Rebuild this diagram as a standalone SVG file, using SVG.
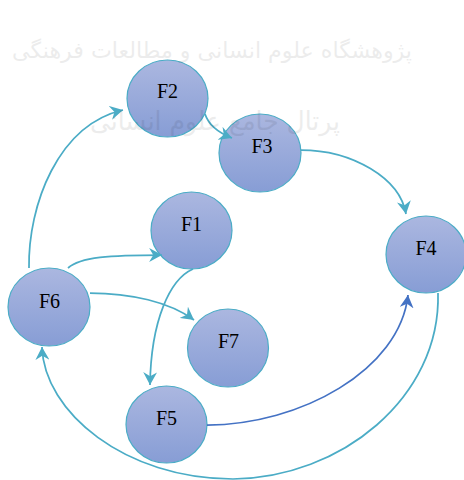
<svg xmlns="http://www.w3.org/2000/svg" width="464" height="480" viewBox="0 0 464 480">
<style>
.node{fill:url(#g);stroke:#4bacc6;stroke-width:1.2}
.lbl{font-family:"Liberation Serif","Times New Roman",serif;font-size:20px;fill:#000;text-anchor:middle}
.c{fill:none;stroke:#4bacc6;stroke-width:1.75;marker-end:url(#at)}
.cb{fill:none;stroke:#4472c4;stroke-width:1.75;marker-end:url(#ab)}
.wm{font-family:"DejaVu Sans","Noto Sans",sans-serif;fill:#000;opacity:0.07;text-anchor:middle}
</style>
<defs>
<linearGradient id="g" x1="0" y1="0" x2="0" y2="1">
<stop offset="0" stop-color="#abb7e0"/>
<stop offset="1" stop-color="#879dd5"/>
</linearGradient>
<marker id="at" markerUnits="userSpaceOnUse" markerWidth="14" markerHeight="14" viewBox="0 0 12 12" refX="11" refY="6" orient="auto">
<path d="M0,0 L11,6 L0,12 L3.5,6 z" fill="#4bacc6"/>
</marker>
<marker id="ab" markerUnits="userSpaceOnUse" markerWidth="14" markerHeight="14" viewBox="0 0 12 12" refX="11" refY="6" orient="auto">
<path d="M0,0 L11,6 L0,12 L3.5,6 z" fill="#4472c4"/>
</marker>
</defs>
<rect width="464" height="480" fill="#fff"/>
<g id="F2"><ellipse class="node" cx="167.5" cy="98.5" rx="40.5" ry="38.5"/><text class="lbl" x="167.5" y="98">F2</text></g>
<g id="F3"><ellipse class="node" cx="260" cy="153" rx="41" ry="39"/><text class="lbl" x="262" y="153">F3</text></g>
<g id="F1"><ellipse class="node" cx="191.5" cy="230.5" rx="40.5" ry="38.5"/><text class="lbl" x="191.5" y="231">F1</text></g>
<g id="F4"><ellipse class="node" cx="426" cy="254.5" rx="40" ry="38.5"/><text class="lbl" x="426" y="255">F4</text></g>
<g id="F6"><ellipse class="node" cx="49" cy="307" rx="41" ry="39"/><text class="lbl" x="49.5" y="308">F6</text></g>
<g id="F7"><ellipse class="node" cx="228" cy="348" rx="40.5" ry="39"/><text class="lbl" x="228.5" y="348">F7</text></g>
<g id="F5"><ellipse class="node" cx="166.5" cy="424.5" rx="40.5" ry="38.5"/><text class="lbl" x="166.5" y="425">F5</text></g>
<g id="connectors">
<path class="c" d="M29,268 C28,205 58,125 123,110"/>
<path class="c" d="M205,114 C209,126 219,133 232,138"/>
<path class="c" d="M301,150 C352,150 400,178 406,214"/>
<path class="c" d="M68,268 C80,257 110,255 162,255"/>
<path class="c" d="M90,293 C130,293 170,302 194,320"/>
<path class="c" d="M193,269 C170,279 151,320 150,385"/>
<path class="cb" d="M207,425 C300,425 400,370 408,295"/>
<path class="c" d="M438,293 C441,398 340,478 233,479 C125,479 44,412 42,347"/>
</g>
<text class="wm" x="212" y="58" font-size="22" textLength="400" lengthAdjust="spacingAndGlyphs">پژوهشگاه علوم انسانی و مطالعات فرهنگی</text>
<text class="wm" x="215" y="130" font-size="26" textLength="250" lengthAdjust="spacingAndGlyphs">پرتال جامع علوم انسانی</text>
</svg>
